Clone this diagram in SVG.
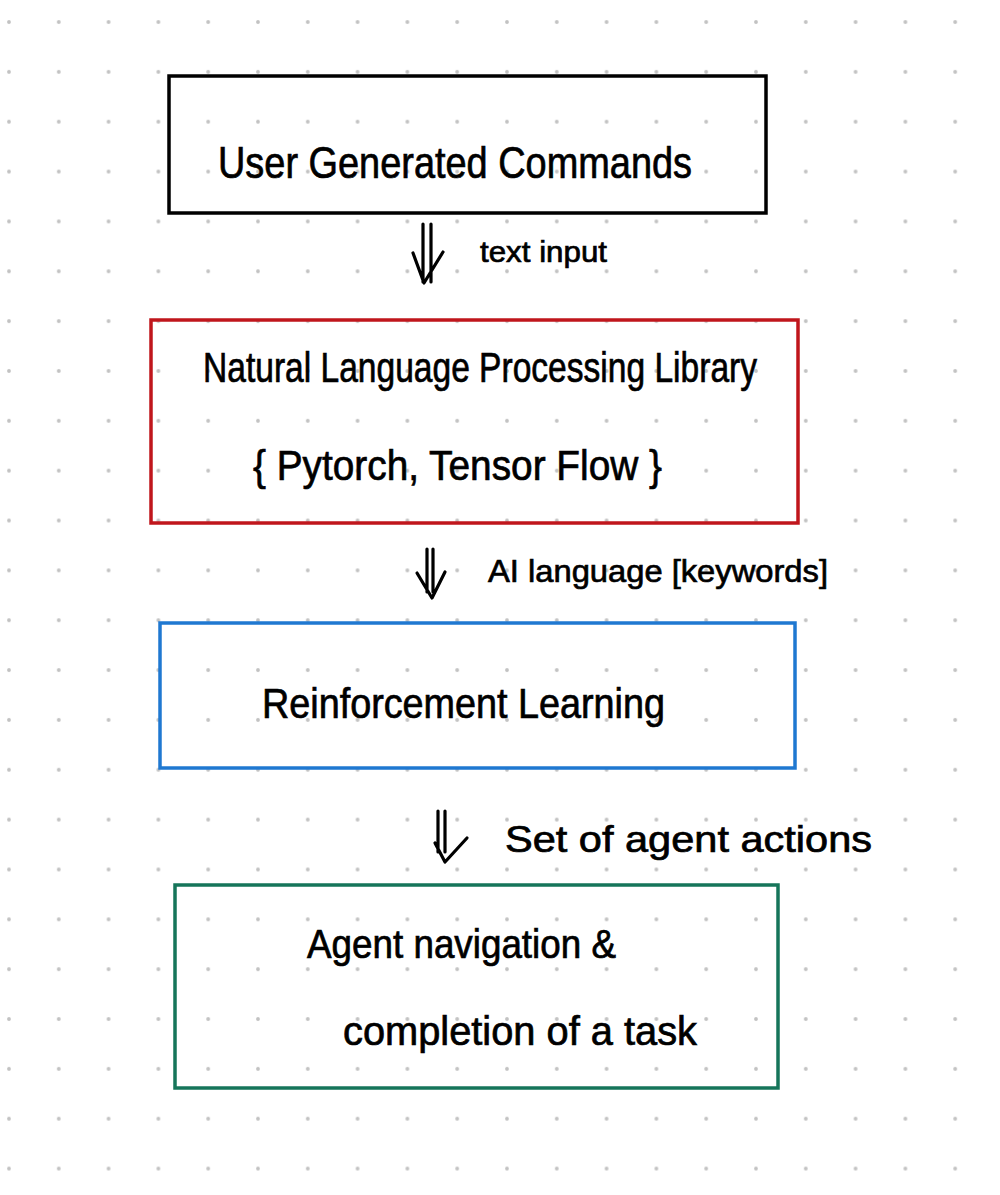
<svg xmlns="http://www.w3.org/2000/svg" width="1000" height="1195" viewBox="0 0 1000 1195">
  <defs>
    <pattern id="dots" patternUnits="userSpaceOnUse" x="-15.9" y="-2.9" width="49.8" height="49.85">
      <circle cx="24.9" cy="24.9" r="1.9" fill="#c2c2c2"/>
    </pattern>
    <style>
      .box { fill: none; stroke-width: 3.5; }
      .lbl { font-family: "Liberation Sans", Arial, sans-serif; fill: #000; stroke: #000; stroke-width: 0.7; }
      .arrow { fill: none; stroke: #000; stroke-width: 3.2; stroke-linecap: round; stroke-linejoin: round; }
    </style>
  </defs>
  <rect width="1000" height="1195" fill="#ffffff"/>
  <rect width="1000" height="1195" fill="url(#dots)"/>

  <g id="node-user-commands">
    <rect class="box" x="169" y="76" width="597" height="137" stroke="#000000"/>
    <text class="lbl" x="218" y="178" font-size="44" textLength="474" lengthAdjust="spacingAndGlyphs">User Generated Commands</text>
  </g>

  <g id="node-nlp">
    <rect class="box" x="151" y="320" width="647" height="203" stroke="#c0161c"/>
    <text class="lbl" x="203" y="382" font-size="42" textLength="554" lengthAdjust="spacingAndGlyphs">Natural Language Processing Library</text>
    <text class="lbl" x="253" y="480" font-size="42" textLength="409" lengthAdjust="spacingAndGlyphs">{ Pytorch, Tensor Flow }</text>
  </g>

  <g id="node-rl">
    <rect class="box" x="160" y="623" width="635" height="145" stroke="#1f78d1"/>
    <text class="lbl" x="262" y="718" font-size="42" textLength="403" lengthAdjust="spacingAndGlyphs">Reinforcement Learning</text>
  </g>

  <g id="node-agent">
    <rect class="box" x="175" y="885" width="603" height="203" stroke="#16755a"/>
    <text class="lbl" x="307" y="958" font-size="40" textLength="309" lengthAdjust="spacingAndGlyphs">Agent navigation &amp;</text>
    <text class="lbl" x="343" y="1045" font-size="40" textLength="354" lengthAdjust="spacingAndGlyphs">completion of a task</text>
  </g>

  <g id="connectors">
    <g id="edge-1">
      <path class="arrow" d="M423 224 L423 282 M431 224 L431 282 M413 253 L424 283 L443 252"/>
      <text class="lbl" x="480" y="262" font-size="30" textLength="127" lengthAdjust="spacingAndGlyphs">text input</text>
    </g>
    <g id="edge-2">
      <path class="arrow" d="M427 549 L427 592 M433 549 L433 592 M417 573 L432 598 L445 572"/>
      <text class="lbl" x="488" y="582" font-size="32" textLength="340" lengthAdjust="spacingAndGlyphs">AI language [keywords]</text>
    </g>
    <g id="edge-3">
      <path class="arrow" d="M438 811 L438 852 M445 811 L445 852 M435 843 L445 862 L467 838"/>
      <text class="lbl" x="505" y="852" font-size="36" textLength="367" lengthAdjust="spacingAndGlyphs">Set of agent actions</text>
    </g>
  </g>
</svg>
